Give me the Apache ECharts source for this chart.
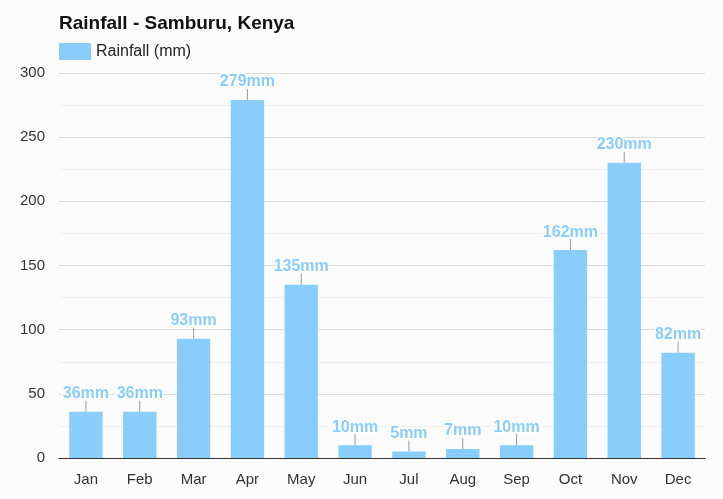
<!DOCTYPE html>
<html><head><meta charset="utf-8">
<script src="https://cdn.jsdelivr.net/npm/echarts@6/dist/echarts.min.js"></script>
<style>html,body{margin:0;padding:0;background:#fcfcfc}#c{width:723px;height:499px}</style>
</head><body><div id="c"></div>
<script>
const months = ['Jan','Feb','Mar','Apr','May','Jun','Jul','Aug','Sep','Oct','Nov','Dec'];
const rainfall = [36, 36, 93, 279, 135, 10, 5, 7, 10, 162, 230, 82];
const seriesName = 'Rainfall (mm)';
const titleText = 'Rainfall - Samburu, Kenya';
const FONT = '"Liberation Sans", Arial, sans-serif';
const BLUE = '#89CDFB';

const chart = echarts.init(document.getElementById('c'), null, {renderer: 'canvas'});
chart.setOption({
  backgroundColor: '#fcfcfc',
  animation: false,
  textStyle: {fontFamily: FONT},
  title: {text: titleText, left: 54, top: 9,
    textStyle: {fontFamily: FONT, fontSize: 19, fontWeight: 'bold', color: '#111'}},
  legend: {left: 54, top: 38, itemWidth: 32, itemHeight: 17, itemGap: 6,
    data: [{name: seriesName, icon: 'rect'}],
    textStyle: {fontFamily: FONT, fontSize: 16, color: '#222'}},
  grid: {left: 59, right: 18, top: 73, bottom: 41, containLabel: false},
  xAxis: {type: 'category', data: months,
    axisLine: {lineStyle: {color: '#333', width: 1}},
    axisTick: {show: false},
    axisLabel: {fontFamily: FONT, fontSize: 15, color: '#333', margin: 14}},
  yAxis: {type: 'value', min: 0, max: 300, interval: 50,
    axisLine: {show: false}, axisTick: {show: false},
    axisLabel: {fontFamily: FONT, fontSize: 15, color: '#333', margin: 14, padding: [3, 0, 0, 0]},
    splitLine: {lineStyle: {color: '#dcdcdc'}},
    minorTick: {show: false, splitNumber: 2},
    minorSplitLine: {show: true, lineStyle: {color: '#efefef'}}},
  series: [
    {name: seriesName, type: 'bar', data: rainfall, barWidth: '62%',
      itemStyle: {color: BLUE},
      label: {show: true, position: 'top', distance: 10,
        formatter: p => p.value + 'mm',
        fontFamily: FONT, fontSize: 16, fontWeight: 'bold', color: BLUE,
        textBorderColor: '#fff', textBorderWidth: 3}},
    {type: 'custom', data: rainfall.map((v, i) => [i, v]), silent: true, z: 1,
      renderItem: (params, api) => {
        const p = api.coord([api.value(0), api.value(1)]);
        return {type: 'line', shape: {x1: p[0], y1: p[1], x2: p[0], y2: p[1] - 11},
          style: {stroke: '#999', lineWidth: 1}};
      }}
  ]
});
</script></body></html>
